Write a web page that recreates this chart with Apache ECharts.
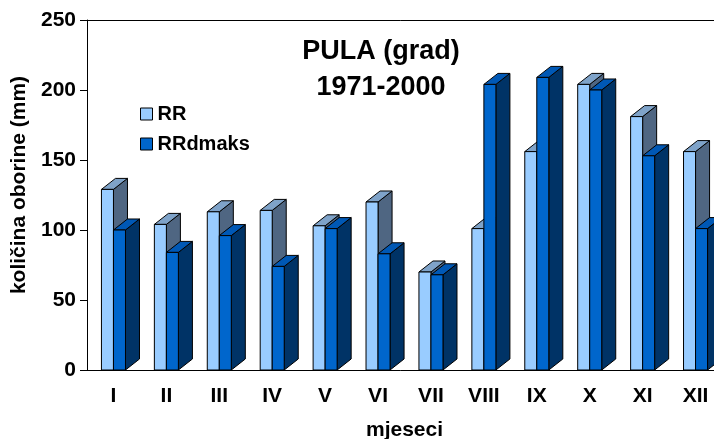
<!DOCTYPE html>
<html>
<head>
<meta charset="utf-8">
<script src="https://cdn.jsdelivr.net/npm/echarts@6/dist/echarts.min.js"></script>
<style>
    html, body { margin: 0; padding: 0; background: #fff; }
    #chart { width: 714px; height: 439px; }
</style>
</head>
<body>
<div id="chart"></div>
<script>
var months = ['I', 'II', 'III', 'IV', 'V', 'VI', 'VII', 'VIII', 'IX', 'X', 'XI', 'XII'];
var rr = [129, 104, 113, 114, 103, 120, 70, 101, 156, 204, 181, 156];
var rrdmaks = [100, 84, 96, 74, 101, 83, 68, 204, 209, 200, 153, 101];
var yTicks = [0, 50, 100, 150, 200, 250];

var font = 'Arial, "Liberation Sans", sans-serif';

// boja: prednja strana, gornja strana, bocna strana
var rrColors = {front: '#99CCFF', top: '#7FA3C9', side: '#4F6682'};
var dmaksColors = {front: '#0066CC', top: '#0058B5', side: '#003366'};

function toPairs(arr) {
    var out = [];
    for (var i = 0; i < arr.length; i++) {
        out.push([i, arr[i]]);
    }
    return out;
}

// pseudo 3D stupac: slot 0 lijevo od sredine kategorije, slot 1 desno
function makeRender(slot, c) {
    return function (params, api) {
        var idx = api.value(0);
        var top = api.coord([idx, api.value(1)]);
        var base = api.coord([idx, 0]);
        var band = api.size([1, 0])[0];
        var w = band * 0.227;
        var dx = band * 0.265;
        var dy = -band * 0.208;
        var x0 = slot === 0 ? top[0] - w : top[0];
        var x1 = x0 + w;
        var yT = top[1], yB = base[1];
        var line = {stroke: '#000', lineWidth: 1};
        return {
            type: 'group',
            children: [
                {
                    type: 'polygon',
                    shape: {points: [[x1, yT], [x1 + dx, yT + dy], [x1 + dx, yB + dy], [x1, yB]]},
                    style: {fill: c.side, stroke: line.stroke, lineWidth: line.lineWidth}
                },
                {
                    type: 'polygon',
                    shape: {points: [[x0, yT], [x0 + dx, yT + dy], [x1 + dx, yT + dy], [x1, yT]]},
                    style: {fill: c.top, stroke: line.stroke, lineWidth: line.lineWidth}
                },
                {
                    type: 'rect',
                    shape: {x: x0, y: yT, width: w, height: yB - yT},
                    style: {fill: c.front, stroke: line.stroke, lineWidth: line.lineWidth}
                }
            ]
        };
    };
}

var option = {
    animation: false,
    textStyle: {fontFamily: font},
    title: {
        text: 'PULA (grad)\n1971-2000',
        left: 381,
        top: 34,
        padding: 0,
        textAlign: 'center',
        textStyle: {fontFamily: font, fontSize: 27, fontWeight: 'bold', color: '#000', lineHeight: 36}
    },
    legend: {
        orient: 'vertical',
        left: 135,
        top: 99,
        itemGap: 10,
        itemWidth: 12,
        itemHeight: 12,
        icon: 'rect',
        itemStyle: {borderColor: '#000', borderWidth: 1},
        textStyle: {fontFamily: font, fontSize: 20, fontWeight: 'bold', color: '#000'},
        data: ['RR', 'RRdmaks']
    },
    grid: {left: 87, top: 20, width: 635, height: 350, outerBoundsMode: 'none', containLabel: false},
    xAxis: [
        {
            type: 'category',
            data: months,
            name: 'mjeseci',
            nameLocation: 'middle',
            nameGap: 50,
            nameTextStyle: {fontFamily: font, fontSize: 21, fontWeight: 'bold', color: '#000'},
            axisLine: {lineStyle: {color: '#000', width: 1}},
            axisTick: {show: false},
            axisLabel: {margin: 16, fontFamily: font, fontSize: 21, fontWeight: 'bold', color: '#000'}
        },
        {
            type: 'category',
            position: 'top',
            data: months,
            axisLine: {show: true, lineStyle: {color: '#000', width: 1}},
            axisTick: {show: false},
            axisLabel: {show: false}
        }
    ],
    yAxis: {
        type: 'value',
        min: yTicks[0],
        max: yTicks[yTicks.length - 1],
        interval: 50,
        name: 'količina oborine (mm)',
        nameLocation: 'middle',
        nameGap: 52,
        nameTextStyle: {fontFamily: font, fontSize: 21, fontWeight: 'bold', color: '#000', padding: [0, 0, 0, 20]},
        axisLine: {show: true, lineStyle: {color: '#000', width: 1}},
        axisTick: {show: true, inside: false, length: 7, lineStyle: {color: '#000'}},
        axisLabel: {margin: 11, fontFamily: font, fontSize: 21, fontWeight: 'bold', color: '#000'},
        splitLine: {show: false}
    },
    series: [
        {
            name: 'RR',
            type: 'custom',
            renderItem: makeRender(0, rrColors),
            itemStyle: {color: rrColors.front, borderColor: '#000', borderWidth: 1},
            encode: {x: 0, y: 1},
            clip: false,
            data: toPairs(rr)
        },
        {
            name: 'RRdmaks',
            type: 'custom',
            renderItem: makeRender(1, dmaksColors),
            itemStyle: {color: dmaksColors.front, borderColor: '#000', borderWidth: 1},
            encode: {x: 0, y: 1},
            clip: false,
            data: toPairs(rrdmaks)
        }
    ]
};

echarts.init(document.getElementById('chart')).setOption(option);
</script>
</body>
</html>
